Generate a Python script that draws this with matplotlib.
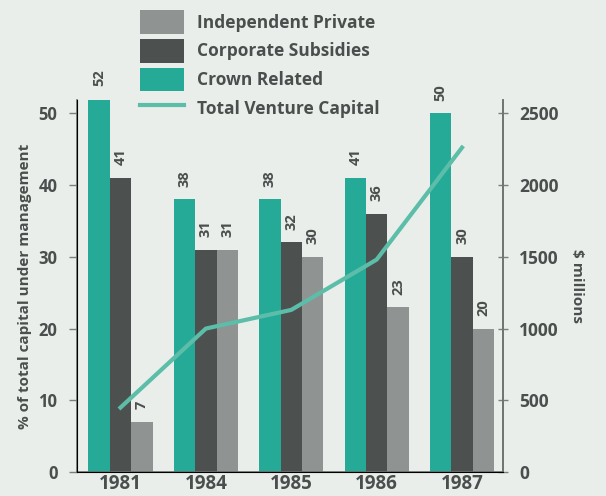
import numpy as np
import matplotlib.pyplot as plt
from matplotlib.patches import Patch
from matplotlib.lines import Line2D

years = ["1981", "1984", "1985", "1986", "1987"]
crown_related = [52, 38, 38, 41, 50]
corporate_subsidies = [41, 31, 32, 36, 30]
independent_private = [7, 31, 30, 23, 20]
total_venture_capital = [450, 1000, 1130, 1480, 2260]

BG = "#e9eeea"
TEAL = "#26aa98"
DARK = "#4c504f"
LIGHT = "#8f9392"
LINE = "#5cbda9"
TEXT = "#4a4f4e"

plt.rcParams["font.family"] = ["Open Sans", "DejaVu Sans"]
plt.rcParams["font.weight"] = "bold"

fig = plt.figure(figsize=(6.06, 4.96), dpi=100, facecolor=BG)
ax = fig.add_axes([0.127, 0.048, 0.703, 0.75])
ax.set_facecolor(BG)

x = np.arange(len(years))
w = 0.25
series = [(crown_related, TEAL), (corporate_subsidies, DARK), (independent_private, LIGHT)]
for i, (vals, col) in enumerate(series):
    pos = x + (i - 1) * w
    ax.bar(pos, vals, width=w, color=col, zorder=2)
    for px, v in zip(pos, vals):
        ax.annotate(str(v), (px, v), xytext=(0, 9), textcoords="offset points",
                    rotation=90, ha="center", va="bottom", fontsize=10.5,
                    color=TEXT, fontweight="bold", annotation_clip=False)

ax.set_xlim(-0.51, 4.48)
ax.set_ylim(0, 51.8)
ax.set_yticks([0, 10, 20, 30, 40, 50])
ax.set_xticks(x)
ax.set_xticklabels(years, fontsize=13.5, color=TEXT, fontweight="bold")
ax.tick_params(axis="x", length=0, pad=1)
ax.tick_params(axis="y", length=6, width=1, colors="#7a7e7d", labelcolor=TEXT,
               labelsize=12, pad=8)
for lbl in ax.get_yticklabels():
    lbl.set_fontweight("bold")
ax.set_ylabel("% of total capital under management", fontsize=11, color=TEXT,
              labelpad=5, fontweight="bold")
ax.spines["top"].set_visible(False)
for s in ["left", "bottom", "right"]:
    ax.spines[s].set_color("#6e7271")
    ax.spines[s].set_linewidth(1.2)

ax2 = ax.twinx()
ax2.plot(x, total_venture_capital, color=LINE, linewidth=3, zorder=3)
ax2.set_ylim(0, 2590)
ax2.set_yticks([0, 500, 1000, 1500, 2000, 2500])
ax2.tick_params(axis="y", direction="inout", length=7, width=1, colors="#7a7e7d",
                labelcolor=TEXT, labelsize=12.5, pad=8)
for lbl in ax2.get_yticklabels():
    lbl.set_fontweight("bold")
ax2.set_ylabel("$ millions", fontsize=11, color=TEXT, rotation=-90, labelpad=18,
               fontweight="bold")
ax2.spines["top"].set_visible(False)
ax2.spines["right"].set_color("#6e7271")
ax2.spines["right"].set_linewidth(1.2)

handles = [Patch(facecolor=LIGHT), Patch(facecolor=DARK), Patch(facecolor=TEAL),
           Line2D([0], [0], color=LINE, linewidth=3)]
labels = ["Independent Private", "Corporate Subsidies", "Crown Related",
          "Total Venture Capital"]
leg = fig.legend(handles, labels, loc="upper left", bbox_to_anchor=(0.214, 1.0),
                 frameon=False, fontsize=12.5, labelcolor=TEXT, handlelength=2.5,
                 handleheight=1.7, handletextpad=0.8, labelspacing=0.3,
                 borderaxespad=0.2)
for t in leg.get_texts():
    t.set_fontweight("bold")

fig.savefig("out.png", dpi=100, facecolor=BG)
